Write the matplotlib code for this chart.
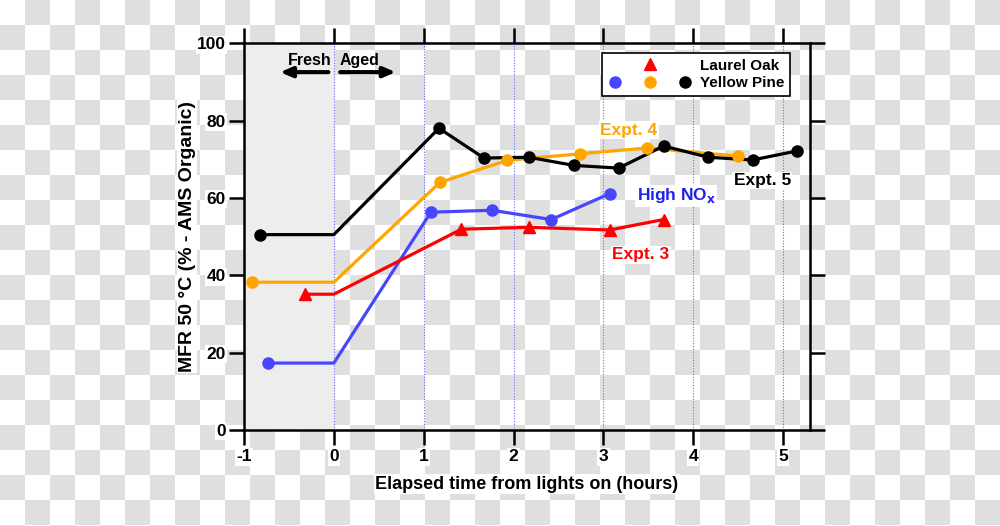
import numpy as np
import matplotlib
matplotlib.use("Agg")
import matplotlib.pyplot as plt
from matplotlib.legend_handler import HandlerTuple

plt.rcParams['font.family'] = ['Liberation Sans', 'DejaVu Sans']
plt.rcParams['font.weight'] = 'bold'
plt.rcParams['axes.labelweight'] = 'bold'

# Yellow pine, Expt. 5 (black)
pine5_t = [-0.82, 1.17, 1.67, 2.17, 2.67, 3.17, 3.67, 4.17, 4.66, 5.15]
pine5_mfr = [50.5, 78.0, 70.3, 70.5, 68.4, 67.7, 73.4, 70.5, 69.8, 72.1]
# Yellow pine, Expt. 4 (orange)
pine4_t = [-0.91, 1.18, 1.93, 2.74, 3.49, 4.50]
pine4_mfr = [38.2, 64.0, 69.7, 71.4, 72.9, 70.8]
# Yellow pine, high NOx (blue)
nox_t = [-0.73, 1.08, 1.76, 2.42, 3.07]
nox_mfr = [17.3, 56.3, 56.8, 54.4, 61.1]
# Laurel oak, Expt. 3 (red)
oak_t = [-0.32, 1.42, 2.17, 3.07, 3.67]
oak_mfr = [35.1, 51.9, 52.4, 51.7, 54.4]

xticks = [-1, 0, 1, 2, 3, 4, 5]
yticks = [0, 20, 40, 60, 80, 100]

orange = '#ffa500'
blue = '#4646ff'
red = '#ff0000'

fig = plt.figure(figsize=(10, 5.26), dpi=100)

# checkerboard backdrop of the original picture
bg = fig.add_axes([0, 0, 1, 1], zorder=-10)
cells = (np.indices((22, 40)).sum(axis=0) % 2).astype(float)
bg.imshow(cells, cmap=matplotlib.colors.ListedColormap(['white', '#dfdfdf']),
          extent=(0, 1000, 550, 0), interpolation='nearest', aspect='auto')
bg.set_xlim(0, 1000)
bg.set_ylim(526, 0)
bg.axis('off')

ax = fig.add_axes([0.244, 0.1825, 0.566, 0.7355])
ax.set_facecolor('none')
ax.set_xlim(-1, 5.3)
ax.set_ylim(0, 100)

ax.axvspan(-1, 0, color='#ededed', zorder=0)
for t in xticks:
    ax.axvline(t, color='#6a6aff', lw=0.8, ls=(0, (1, 1.5)), zorder=1)


def series(t, v, color, marker, ms):
    # line starts flat until lights on at t = 0
    lt = [t[0], 0] + t[1:]
    lv = [v[0], v[0]] + v[1:]
    ax.plot(lt, lv, color=color, lw=2.3, zorder=3)
    return ax.plot(t, v, ls='none', marker=marker, color=color, ms=ms, zorder=4)[0]


h_orange = series(pine4_t, pine4_mfr, orange, 'o', 8)
h_black = series(pine5_t, pine5_mfr, 'black', 'o', 8)
h_blue = series(nox_t, nox_mfr, blue, 'o', 8)
h_red = series(oak_t, oak_mfr, red, '^', 8.5)

box = dict(facecolor='white', edgecolor='none', pad=1)
ax.text(3.6, 77.5, 'Expt. 4', color=orange, fontsize=12.5, ha='right', va='center', bbox=box, zorder=5)
ax.text(4.45, 64.5, 'Expt. 5', color='black', fontsize=12.5, ha='left', va='center', bbox=box, zorder=5)
ax.text(3.37, 60.5, 'High NO$_\\mathbf{x}$', color='#2020ee', fontsize=12.5, ha='left', va='center', bbox=box, zorder=5)
ax.text(3.1, 45.3, 'Expt. 3', color=red, fontsize=12.5, ha='left', va='center', bbox=box, zorder=5)

ax.text(-0.03, 95.6, 'Fresh', fontsize=11.5, ha='right', va='center', zorder=5)
ax.text(0.06, 95.6, 'Aged', fontsize=11.5, ha='left', va='center', zorder=5)
arrow = dict(arrowstyle='-|>,head_length=0.7,head_width=0.3', color='black', lw=3)
ax.annotate('', xy=(-0.63, 92.5), xytext=(-0.03, 92.5), arrowprops=arrow, zorder=5)
ax.annotate('', xy=(0.72, 92.5), xytext=(0.04, 92.5), arrowprops=arrow, zorder=5)

leg = ax.legend([h_red, (h_blue, h_orange, h_black)], ['Laurel Oak', 'Yellow Pine'],
                handler_map={tuple: HandlerTuple(ndivide=None, pad=1.25)},
                loc='upper right', bbox_to_anchor=(0.9647, 0.974), fontsize=11,
                handlelength=5.6, handletextpad=0.5, borderpad=0.35, labelspacing=0.25,
                borderaxespad=0, fancybox=False, framealpha=1, edgecolor='black')
leg.get_frame().set_linewidth(1.2)

ax.set_xticks(xticks)
ax.set_xticklabels([str(t) for t in xticks])
ax.set_yticks(yticks)
ax.tick_params(axis='both', direction='out', length=11, width=1.8, labelsize=12.5, pad=3,
               top=True, right=True)
ax.tick_params(axis='y', pad=2)
for lab in ax.get_xticklabels() + ax.get_yticklabels():
    lab.set_bbox(box)
for s in ax.spines.values():
    s.set_linewidth(1.8)

ax.set_xlabel('Elapsed time from lights on (hours)', fontsize=13, labelpad=8, bbox=box)
ax.set_ylabel('MFR 50 \u00b0C (% - AMS Organic)', fontsize=14, labelpad=1, bbox=box)

fig.savefig('out.png', dpi=100)
